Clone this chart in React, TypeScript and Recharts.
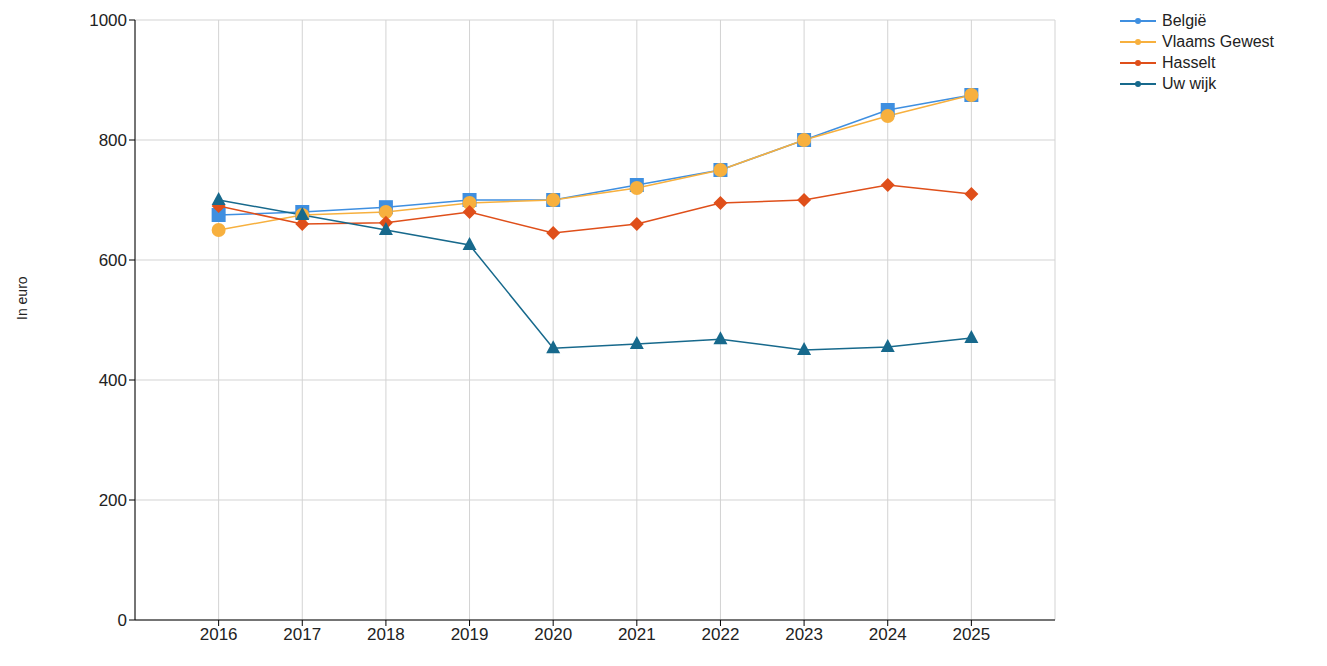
import React from 'react';
import { LineChart, Line, XAxis, YAxis, CartesianGrid } from 'recharts';

const years = [2016, 2017, 2018, 2019, 2020, 2021, 2022, 2023, 2024, 2025];
const belgie = [675, 680, 688, 700, 700, 725, 750, 800, 850, 875];
const vlaams = [650, 675, 680, 695, 700, 720, 750, 800, 840, 875];
const hasselt = [690, 660, 662, 680, 645, 660, 695, 700, 725, 710];
const wijk = [700, 675, 650, 625, 453, 460, 468, 450, 455, 470];
const yTicks = [0, 200, 400, 600, 800, 1000];

const data = years.map((y, i) => ({ year: y, belgie: belgie[i], vlaams: vlaams[i], hasselt: hasselt[i], wijk: wijk[i] }));

const C = { belgie: '#3f8fe0', vlaams: '#f7b03e', hasselt: '#df4f1a', wijk: '#17698c' };

const Square = (p: any) => <rect x={p.cx - 7} y={p.cy - 7} width={14} height={14} fill={C.belgie} />;
const Circle = (p: any) => <circle cx={p.cx} cy={p.cy} r={7} fill={C.vlaams} />;
const Diamond = (p: any) => <polygon points={`${p.cx},${p.cy - 7} ${p.cx + 7},${p.cy} ${p.cx},${p.cy + 7} ${p.cx - 7},${p.cy}`} fill={C.hasselt} />;
const Tri = (p: any) => <polygon points={`${p.cx},${p.cy - 8} ${p.cx + 7},${p.cy + 5} ${p.cx - 7},${p.cy + 5}`} fill={C.wijk} />;

const items = [
  { name: 'België', c: C.belgie },
  { name: 'Vlaams Gewest', c: C.vlaams },
  { name: 'Hasselt', c: C.hasselt },
  { name: 'Uw wijk', c: C.wijk },
];

const font = 'Liberation Sans, Arial, sans-serif';

const LegendBox = () => (
  <div style={{ position: 'absolute', left: 1110, top: 2, fontFamily: font, fontSize: 16, color: '#222', lineHeight: '21px' }}>
    {items.map((it) => (
      <div key={it.name} style={{ display: 'flex', alignItems: 'center' }}>
        <svg width={40} height={10} style={{ marginRight: 4 }}>
          <line x1={2} y1={5} x2={38} y2={5} stroke={it.c} strokeWidth={2} />
          <circle cx={20} cy={5} r={3} fill={it.c} />
        </svg>
        <span>{it.name}</span>
      </div>
    ))}
  </div>
);

export default function App() {
  const tick = { fill: '#222', fontSize: 17, fontFamily: font };
  return (
    <div style={{ position: 'relative', width: 1319, height: 650 }}>
      <LineChart width={1319} height={650} data={data} margin={{ top: 12, right: 272, bottom: 8, left: 0 }}>
        <CartesianGrid stroke="#d3d3d3" />
        <XAxis dataKey="year" type="number" domain={[2015, 2026]} ticks={years} tick={tick} stroke="#000" height={30} tickSize={6} interval={0} />
        <YAxis domain={[0, 1000]} ticks={yTicks} tick={tick} stroke="#000" width={127} tickSize={6}
          label={{ value: 'In euro', angle: -90, position: 'insideLeft', offset: 0, dx: 14, style: { fontSize: 14, fill: '#222', fontFamily: font } }} />
        <Line dataKey="belgie" stroke={C.belgie} strokeWidth={1.5} dot={<Square />} isAnimationActive={false} />
        <Line dataKey="vlaams" stroke={C.vlaams} strokeWidth={1.5} dot={<Circle />} isAnimationActive={false} />
        <Line dataKey="hasselt" stroke={C.hasselt} strokeWidth={1.5} dot={<Diamond />} isAnimationActive={false} />
        <Line dataKey="wijk" stroke={C.wijk} strokeWidth={1.5} dot={<Tri />} isAnimationActive={false} />
      </LineChart>
      <LegendBox />
    </div>
  );
}
